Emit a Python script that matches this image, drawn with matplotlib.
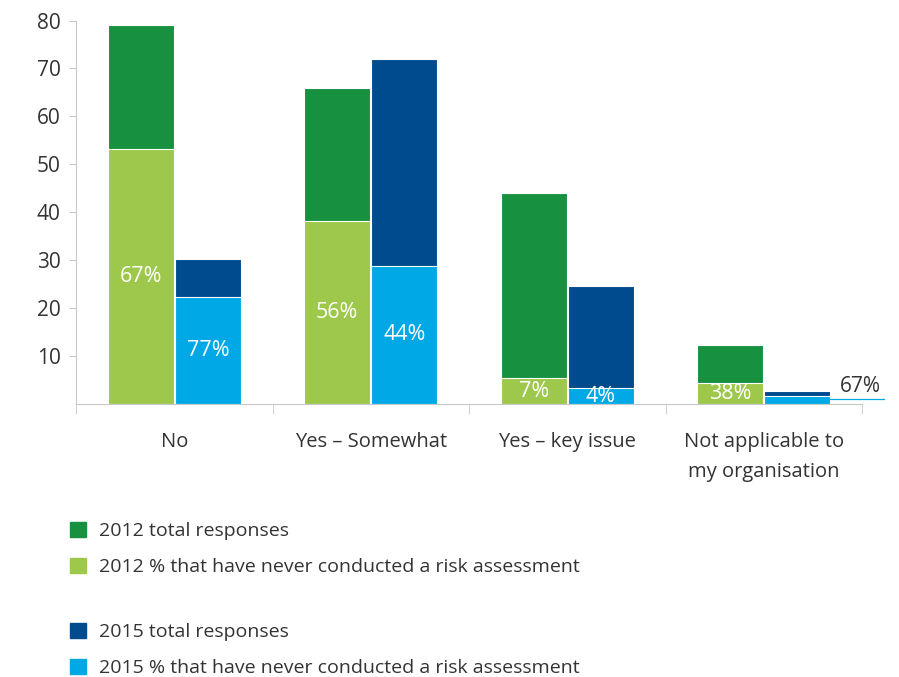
import matplotlib.pyplot as plt
from matplotlib.patches import Patch
import numpy as np

# category labels and values
categories = ['No', 'Yes \u2013 Somewhat', 'Yes \u2013 key issue', 'Not applicable to\nmy organisation']
total_2012 = [79, 66, 44, 12.4]
never_2012 = [53.2, 38.2, 5.4, 4.3]
pct_2012 = ['67%', '56%', '7%', '38%']
total_2015 = [30.3, 72, 24.7, 2.8]
never_2015 = [22.4, 28.8, 3.3, 1.75]
pct_2015 = ['77%', '44%', '4%', '67%']

legend_2012 = ['2012 total responses', '2012 % that have never conducted a risk assessment']
legend_2015 = ['2015 total responses', '2015 % that have never conducted a risk assessment']

# colours
dark_green = '#17903f'
light_green = '#9dc84b'
dark_blue = '#004b8d'
light_blue = '#00a9e6'
text_col = '#333333'
axis_col = '#c8c8c8'

plt.rcParams['font.family'] = ['Open Sans', 'DejaVu Sans']

fig = plt.figure(figsize=(8.99, 6.77), dpi=100)
ax = fig.add_axes([0.0845, 0.4032, 0.8745, 0.5665])

x = np.arange(len(categories))
w = 0.336
off = 0.171

ax.bar(x - off, total_2012, width=w, color=dark_green, edgecolor='white', linewidth=0.8)
ax.bar(x - off, never_2012, width=w, color=light_green, edgecolor='white', linewidth=0.8)
ax.bar(x + off, total_2015, width=w, color=dark_blue, edgecolor='white', linewidth=0.8)
ax.bar(x + off, never_2015, width=w, color=light_blue, edgecolor='white', linewidth=0.8)

# percent labels inside the light segments
for i in range(len(categories)):
    ax.text(x[i] - off, never_2012[i] / 2, pct_2012[i], color='white', fontsize=15.5,
            ha='center', va='center')
    if i < len(categories) - 1:
        ax.text(x[i] + off, never_2015[i] / 2, pct_2015[i], color='white', fontsize=15.5,
                ha='center', va='center')

# last 2015 label sits outside with a leader line
last = len(categories) - 1
ax.plot([x[last] + off + w / 2, x[last] + off + w / 2 + 0.27], [never_2015[last] / 2 + 0.2] * 2,
        color=light_blue, linewidth=0.9, clip_on=False)
ax.text(x[last] + off + w / 2 + 0.05, never_2015[last] / 2 + 0.6, pct_2015[last], color=text_col,
        fontsize=15, ha='left', va='bottom')

ax.set_xlim(-0.5, len(categories) - 0.5)
ax.set_ylim(0, 80)
ax.set_yticks(np.arange(10, 81, 10))
ax.tick_params(axis='y', colors=axis_col, labelcolor=text_col, labelsize=15, length=5,
               direction='out', pad=6)

ax.set_xticks(x)
ax.set_xticklabels(categories, fontsize=14.5, color=text_col, linespacing=1.7)
ax.tick_params(axis='x', length=0, pad=20)
ax.set_xticks(np.arange(-0.5, len(categories), 1), minor=True)
ax.tick_params(axis='x', which='minor', length=7, color=axis_col, direction='out')

for s in ['top', 'right']:
    ax.spines[s].set_visible(False)
ax.spines['left'].set_color(axis_col)
ax.spines['bottom'].set_color(axis_col)

# two separate legends, like the original
h12 = [Patch(color=dark_green), Patch(color=light_green)]
h15 = [Patch(color=dark_blue), Patch(color=light_blue)]
leg_kw = dict(loc='upper left', frameon=False, fontsize=14, handlelength=0.8, handleheight=0.8,
              handletextpad=0.7, labelspacing=0.9, borderpad=0, borderaxespad=0, labelcolor=text_col)
fig.legend(h12, legend_2012, bbox_to_anchor=(0.078, 0.229), **leg_kw)
fig.legend(h15, legend_2015, bbox_to_anchor=(0.078, 0.0795), **leg_kw)

fig.savefig('out.png', dpi=100)
